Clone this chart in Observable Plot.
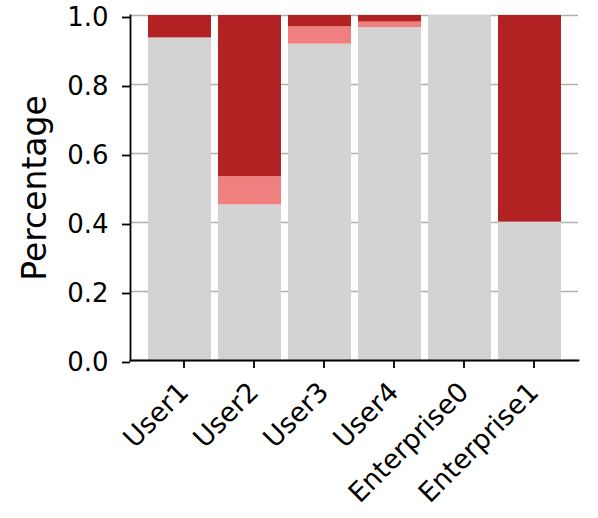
<!DOCTYPE html>
<html>
<head>
<meta charset="utf-8">
<script src="https://cdn.jsdelivr.net/npm/d3@7"></script>
<script src="https://cdn.jsdelivr.net/npm/@observablehq/plot@0.6"></script>
<style>
  html, body { margin: 0; padding: 0; background: #fff; }
  #chart { width: 598px; height: 518px; }
</style>
</head>
<body>
<div id="chart"></div>
<script>
const categories = ["User1", "User2", "User3", "User4", "Enterprise0", "Enterprise1"];
const seriesNames = ["Gray", "Light red", "Dark red"];
const seriesColors = ["#d3d3d3", "#f08080", "#b22222"];
const grayShare  = [0.935, 0.451, 0.917, 0.965, 1.000, 0.401];
const lightShare = [0.000, 0.082, 0.050, 0.016, 0.000, 0.000];
const darkShare  = [0.065, 0.467, 0.033, 0.019, 0.000, 0.599];
const yTicks = [0, 0.2, 0.4, 0.6, 0.8, 1.0];
const yLabel = "Percentage";

const seriesValues = [grayShare, lightShare, darkShare];
const rows = [];
seriesNames.forEach((s, si) => {
  categories.forEach((c, ci) => {
    rows.push({category: c, series: s, value: seriesValues[si][ci]});
  });
});

const font = "DejaVu Sans";
const chart = Plot.plot({
  width: 598,
  height: 518,
  marginLeft: 130,
  marginRight: 20,
  marginTop: 15,
  marginBottom: 158,
  style: {fontFamily: font, background: "#fff", color: "#000", overflow: "visible"},
  x: {domain: categories, paddingInner: 0.1, paddingOuter: 0.245, align: 0.5, axis: null},
  y: {domain: [0, 1], axis: null},
  color: {domain: seriesNames, range: seriesColors},
  marks: [
    Plot.gridY(yTicks, {stroke: "#b0b0b0", strokeOpacity: 1, strokeWidth: 1.3}),
    Plot.barY(rows, {x: "category", y: "value", fill: "series"}),
    Plot.axisY({ticks: yTicks, tickFormat: d3.format(".1f"), tickSize: 8, tickPadding: 14,
      fontSize: 26, strokeWidth: 1.8, label: null, dy: 2}),
    Plot.axisX({tickSize: 8, tickRotate: -45, tickPadding: 19, dx: 4,
      fontSize: 27, strokeWidth: 1.8, label: null}),
    Plot.frame({anchor: "left", stroke: "#000", strokeWidth: 1.8}),
    Plot.frame({anchor: "bottom", stroke: "#000", strokeWidth: 1.8}),
    Plot.text([yLabel], {frameAnchor: "left", rotate: -90, dx: -95, fontSize: 33,
      textAnchor: "middle", lineAnchor: "middle", fill: "#000"})
  ]
});
document.getElementById("chart").appendChild(chart);
</script>
</body>
</html>
